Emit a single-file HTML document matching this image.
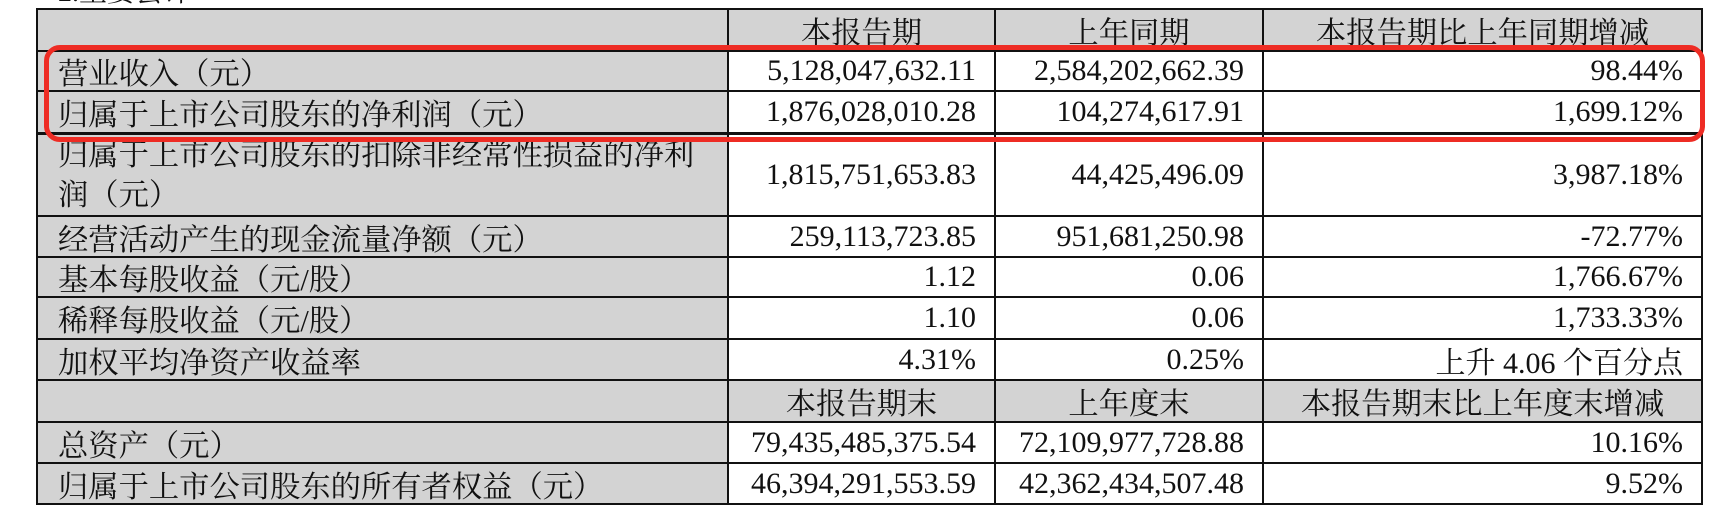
<!DOCTYPE html>
<html><head><meta charset="utf-8"><style>
html,body{margin:0;padding:0;background:#fff;width:1716px;height:528px;overflow:hidden;position:relative;}
body{font-family:"Liberation Serif","Noto Serif CJK SC","Noto Sans CJK SC",serif;color:#111;}
.c{position:absolute;box-sizing:border-box;font-size:30px;display:flex;align-items:center;white-space:nowrap;}
.g{background:#d3d3d3;}
.l{padding-left:21px;justify-content:flex-start;font-size:30.3px;}
.r{padding-right:19px;justify-content:flex-end;font-size:30px;}
.m{justify-content:center;font-size:30.3px;}
.hl{position:absolute;background:#111;height:2px;left:37px;width:1666px;}
.vl{position:absolute;background:#111;width:2px;}
#box{position:absolute;left:44px;top:45px;width:1661px;height:97px;border:5px solid #ee2c24;border-radius:16px;box-sizing:border-box;}
</style></head><body>
<div class="c" style="left:58px;top:-26px;height:32px;font-size:28px;">2.主要会计</div>
<div class="c g" style="left:37px;top:9px;width:691px;height:495px;"></div>
<div class="c g" style="left:728px;top:9px;width:974px;height:42px;"></div>
<div class="c g" style="left:728px;top:380px;width:974px;height:42px;"></div>
<div class="c m" style="left:728px;top:9px;width:267px;height:42px;">本报告期</div>
<div class="c m" style="left:995px;top:9px;width:268px;height:42px;">上年同期</div>
<div class="c m" style="left:1263px;top:9px;width:439px;height:42px;">本报告期比上年同期增减</div>
<div class="c m" style="left:728px;top:380px;width:267px;height:42px;">本报告期末</div>
<div class="c m" style="left:995px;top:380px;width:268px;height:42px;">上年度末</div>
<div class="c m" style="left:1263px;top:380px;width:439px;height:42px;">本报告期末比上年度末增减</div>

<div class="c l" style="left:37px;top:51px;width:691px;height:40px;">营业收入（元）</div>
<div class="c r" style="left:728px;top:51px;width:267px;height:40px;">5,128,047,632.11</div>
<div class="c r" style="left:995px;top:51px;width:268px;height:40px;">2,584,202,662.39</div>
<div class="c r" style="left:1263px;top:51px;width:439px;height:40px;">98.44%</div>

<div class="c l" style="left:37px;top:91px;width:691px;height:42px;">归属于上市公司股东的净利润（元）</div>
<div class="c r" style="left:728px;top:91px;width:267px;height:42px;">1,876,028,010.28</div>
<div class="c r" style="left:995px;top:91px;width:268px;height:42px;">104,274,617.91</div>
<div class="c r" style="left:1263px;top:91px;width:439px;height:42px;">1,699.12%</div>

<div class="c l" style="left:37px;top:133px;width:691px;height:83px;white-space:normal;line-height:40px;">归属于上市公司股东的扣除非经常性损益的净利<br>润（元）</div>
<div class="c r" style="left:728px;top:133px;width:267px;height:83px;">1,815,751,653.83</div>
<div class="c r" style="left:995px;top:133px;width:268px;height:83px;">44,425,496.09</div>
<div class="c r" style="left:1263px;top:133px;width:439px;height:83px;">3,987.18%</div>

<div class="c l" style="left:37px;top:216px;width:691px;height:41px;">经营活动产生的现金流量净额（元）</div>
<div class="c r" style="left:728px;top:216px;width:267px;height:41px;">259,113,723.85</div>
<div class="c r" style="left:995px;top:216px;width:268px;height:41px;">951,681,250.98</div>
<div class="c r" style="left:1263px;top:216px;width:439px;height:41px;">-72.77%</div>

<div class="c l" style="left:37px;top:257px;width:691px;height:40px;">基本每股收益（元/股）</div>
<div class="c r" style="left:728px;top:257px;width:267px;height:40px;">1.12</div>
<div class="c r" style="left:995px;top:257px;width:268px;height:40px;">0.06</div>
<div class="c r" style="left:1263px;top:257px;width:439px;height:40px;">1,766.67%</div>

<div class="c l" style="left:37px;top:297px;width:691px;height:42px;">稀释每股收益（元/股）</div>
<div class="c r" style="left:728px;top:297px;width:267px;height:42px;">1.10</div>
<div class="c r" style="left:995px;top:297px;width:268px;height:42px;">0.06</div>
<div class="c r" style="left:1263px;top:297px;width:439px;height:42px;">1,733.33%</div>

<div class="c l" style="left:37px;top:339px;width:691px;height:41px;">加权平均净资产收益率</div>
<div class="c r" style="left:728px;top:339px;width:267px;height:41px;">4.31%</div>
<div class="c r" style="left:995px;top:339px;width:268px;height:41px;">0.25%</div>
<div class="c r" style="left:1263px;top:339px;width:439px;height:41px;">上升 4.06 个百分点</div>

<div class="c l" style="left:37px;top:422px;width:691px;height:41px;">总资产（元）</div>
<div class="c r" style="left:728px;top:422px;width:267px;height:41px;">79,435,485,375.54</div>
<div class="c r" style="left:995px;top:422px;width:268px;height:41px;">72,109,977,728.88</div>
<div class="c r" style="left:1263px;top:422px;width:439px;height:41px;">10.16%</div>

<div class="c l" style="left:37px;top:463px;width:691px;height:41px;">归属于上市公司股东的所有者权益（元）</div>
<div class="c r" style="left:728px;top:463px;width:267px;height:41px;">46,394,291,553.59</div>
<div class="c r" style="left:995px;top:463px;width:268px;height:41px;">42,362,434,507.48</div>
<div class="c r" style="left:1263px;top:463px;width:439px;height:41px;">9.52%</div>

<div class="hl" style="top:8px"></div>
<div class="hl" style="top:50px"></div>
<div class="hl" style="top:90px"></div>
<div class="hl" style="top:132px;height:3px"></div>
<div class="hl" style="top:215px"></div>
<div class="hl" style="top:256px"></div>
<div class="hl" style="top:296px"></div>
<div class="hl" style="top:338px"></div>
<div class="hl" style="top:379px"></div>
<div class="hl" style="top:421px"></div>
<div class="hl" style="top:462px"></div>
<div class="hl" style="top:503px"></div>
<div class="vl" style="left:36px;top:8px;height:497px"></div>
<div class="vl" style="left:727px;top:8px;height:497px"></div>
<div class="vl" style="left:994px;top:8px;height:497px"></div>
<div class="vl" style="left:1262px;top:8px;height:497px"></div>
<div class="vl" style="left:1701px;top:8px;height:497px"></div>
<div id="box"></div>
</body></html>
